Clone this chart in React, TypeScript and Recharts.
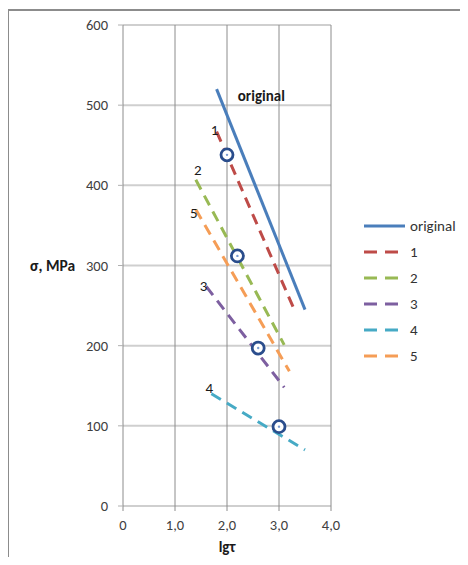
import React from 'react';
import {
  ComposedChart,
  Line,
  Scatter,
  XAxis,
  YAxis,
  CartesianGrid,
  Legend,
  Label,
} from 'recharts';

const xTicks = [0, 1, 2, 3, 4];
const yTicks = [0, 100, 200, 300, 400, 500, 600];

const seriesNames = ['original', '1', '2', '3', '4', '5'];

const originalData = [{ x: 1.8, y: 520 }, { x: 3.5, y: 245 }];
const series1 = [{ x: 1.8, y: 467 }, { x: 3.3, y: 244 }];
const series2 = [{ x: 1.4, y: 407 }, { x: 3.1, y: 201 }];
const series3 = [{ x: 1.6, y: 274 }, { x: 3.1, y: 148 }];
const series4 = [{ x: 1.7, y: 140 }, { x: 3.5, y: 70 }];
const series5 = [{ x: 1.4, y: 370 }, { x: 3.2, y: 168 }];

const markerPoints = [
  { x: 2.0, y: 438 },
  { x: 2.2, y: 312 },
  { x: 2.6, y: 197 },
  { x: 3.0, y: 99 },
];

const curveLabels = [
  { x: 2.66, y: 512, text: 'original', bold: true },
  { x: 1.76, y: 469, text: '1', bold: false },
  { x: 1.44, y: 419, text: '2', bold: false },
  { x: 1.36, y: 366, text: '5', bold: false },
  { x: 1.55, y: 274, text: '3', bold: false },
  { x: 1.66, y: 147, text: '4', bold: false },
];

const FONT = 'Carlito, Lato, "Open Sans", sans-serif';
const DASH = '11 7';

const fmtX = (v: number) => (v === 0 ? '0' : v.toFixed(1).replace('.', ','));

const MarkerShape = (props: any) => {
  const { cx, cy } = props;
  return (
    <g>
      <circle cx={cx} cy={cy} r={6} fill="#ffffff" stroke="#2a4d8c" strokeWidth={2.8} />
      <circle cx={cx} cy={cy} r={1.2} fill="#7a9bd0" />
    </g>
  );
};

const LabelShape = (props: any) => {
  const { cx, cy, payload } = props;
  return (
    <text
      x={cx}
      y={cy}
      textAnchor="middle"
      dominantBaseline="central"
      fontFamily={FONT}
      fontSize={15}
      fontWeight={payload.bold ? 700 : 400}
      fill="#1a1a1a"
    >
      {payload.text}
    </text>
  );
};

const LegendContent = (props: any) => {
  const items = (props.payload || [])
    .filter((e: any) => e.type !== 'none' && seriesNames.includes(e.value))
    .sort((a: any, b: any) => seriesNames.indexOf(a.value) - seriesNames.indexOf(b.value));
  return (
    <div style={{ fontFamily: FONT, fontSize: 15, color: '#333' }}>
      {items.map((e: any, i: number) => (
        <div key={i} style={{ height: 26, display: 'flex', alignItems: 'center' }}>
          <svg width={46} height={26} style={{ display: 'block' }}>
            <line
              x1={0}
              y1={13}
              x2={41}
              y2={13}
              stroke={e.color}
              strokeWidth={3}
              strokeDasharray={e.value === 'original' ? undefined : '13 8'}
            />
          </svg>
          <span style={{ lineHeight: '26px' }}>{e.value}</span>
        </div>
      ))}
    </div>
  );
};

export default function App() {
  return (
    <div style={{ position: 'relative', width: 460, height: 549 }}>
      <div
        style={{
          position: 'absolute',
          left: -1,
          top: 1,
          width: 461,
          height: 556,
          boxSizing: 'border-box',
          borderLeft: '2px solid #8c8c8c',
          borderTop: '2px solid #8c8c8c',
          pointerEvents: 'none',
        }}
      />
      <ComposedChart
        width={460}
        height={549}
        margin={{ top: 17, right: 37, bottom: 1, left: 15 }}
      >
        <CartesianGrid horizontal={true} vertical={false} stroke="#cfcfcf" strokeWidth={2} />
        <CartesianGrid horizontal={false} vertical={true} stroke="#8c8c8c" strokeWidth={1} />
        <XAxis
          dataKey="x"
          type="number"
          domain={[0, 4]}
          ticks={xTicks}
          tickFormatter={fmtX}
          axisLine={false}
          tickLine={{ stroke: '#8c8c8c' }}
          tickSize={5}
          tickMargin={9}
          height={50}
          tick={{ fontFamily: FONT, fontSize: 14.5, fill: '#404040' }}
          allowDataOverflow
        >
          <Label
            value="lgτ"
            position="insideBottom"
            offset={4}
            style={{ fontFamily: FONT, fontSize: 15, fontWeight: 700, fill: '#1a1a1a' }}
          />
        </XAxis>
        <YAxis
          dataKey="y"
          type="number"
          domain={[0, 600]}
          ticks={yTicks}
          axisLine={false}
          tickLine={{ stroke: '#b0b0b0' }}
          tickSize={5}
          tickMargin={10}
          width={100}
          tick={{ fontFamily: FONT, fontSize: 14.5, fill: '#404040' }}
        >
          <Label
            value="σ, MPa"
            position="insideLeft"
            offset={7}
            style={{ fontFamily: FONT, fontSize: 15.5, fontWeight: 700, fill: '#1a1a1a', textAnchor: 'start' }}
          />
        </YAxis>
        <Legend
          layout="vertical"
          align="right"
          verticalAlign="top"
          content={<LegendContent />}
          wrapperStyle={{ position: 'absolute', left: 356, top: 205, width: 100 }}
        />
        <Line data={originalData} dataKey="y" name="original" type="linear" stroke="#4a7ebb" strokeWidth={3} dot={false} isAnimationActive={false} />
        <Line data={series1} dataKey="y" name="1" type="linear" stroke="#be4b48" strokeWidth={3} strokeDasharray={DASH} dot={false} isAnimationActive={false} />
        <Line data={series2} dataKey="y" name="2" type="linear" stroke="#98b954" strokeWidth={3} strokeDasharray={DASH} dot={false} isAnimationActive={false} />
        <Line data={series3} dataKey="y" name="3" type="linear" stroke="#7d5fa0" strokeWidth={3} strokeDasharray={DASH} dot={false} isAnimationActive={false} />
        <Line data={series4} dataKey="y" name="4" type="linear" stroke="#46aac5" strokeWidth={3} strokeDasharray={DASH} dot={false} isAnimationActive={false} />
        <Line data={series5} dataKey="y" name="5" type="linear" stroke="#f59d56" strokeWidth={3} strokeDasharray={DASH} dot={false} isAnimationActive={false} />
        <Scatter data={markerPoints} dataKey="y" name="markers" legendType="none" shape={<MarkerShape />} isAnimationActive={false} />
        <Scatter data={curveLabels} dataKey="y" name="labels" legendType="none" shape={<LabelShape />} isAnimationActive={false} />
      </ComposedChart>
    </div>
  );
}
